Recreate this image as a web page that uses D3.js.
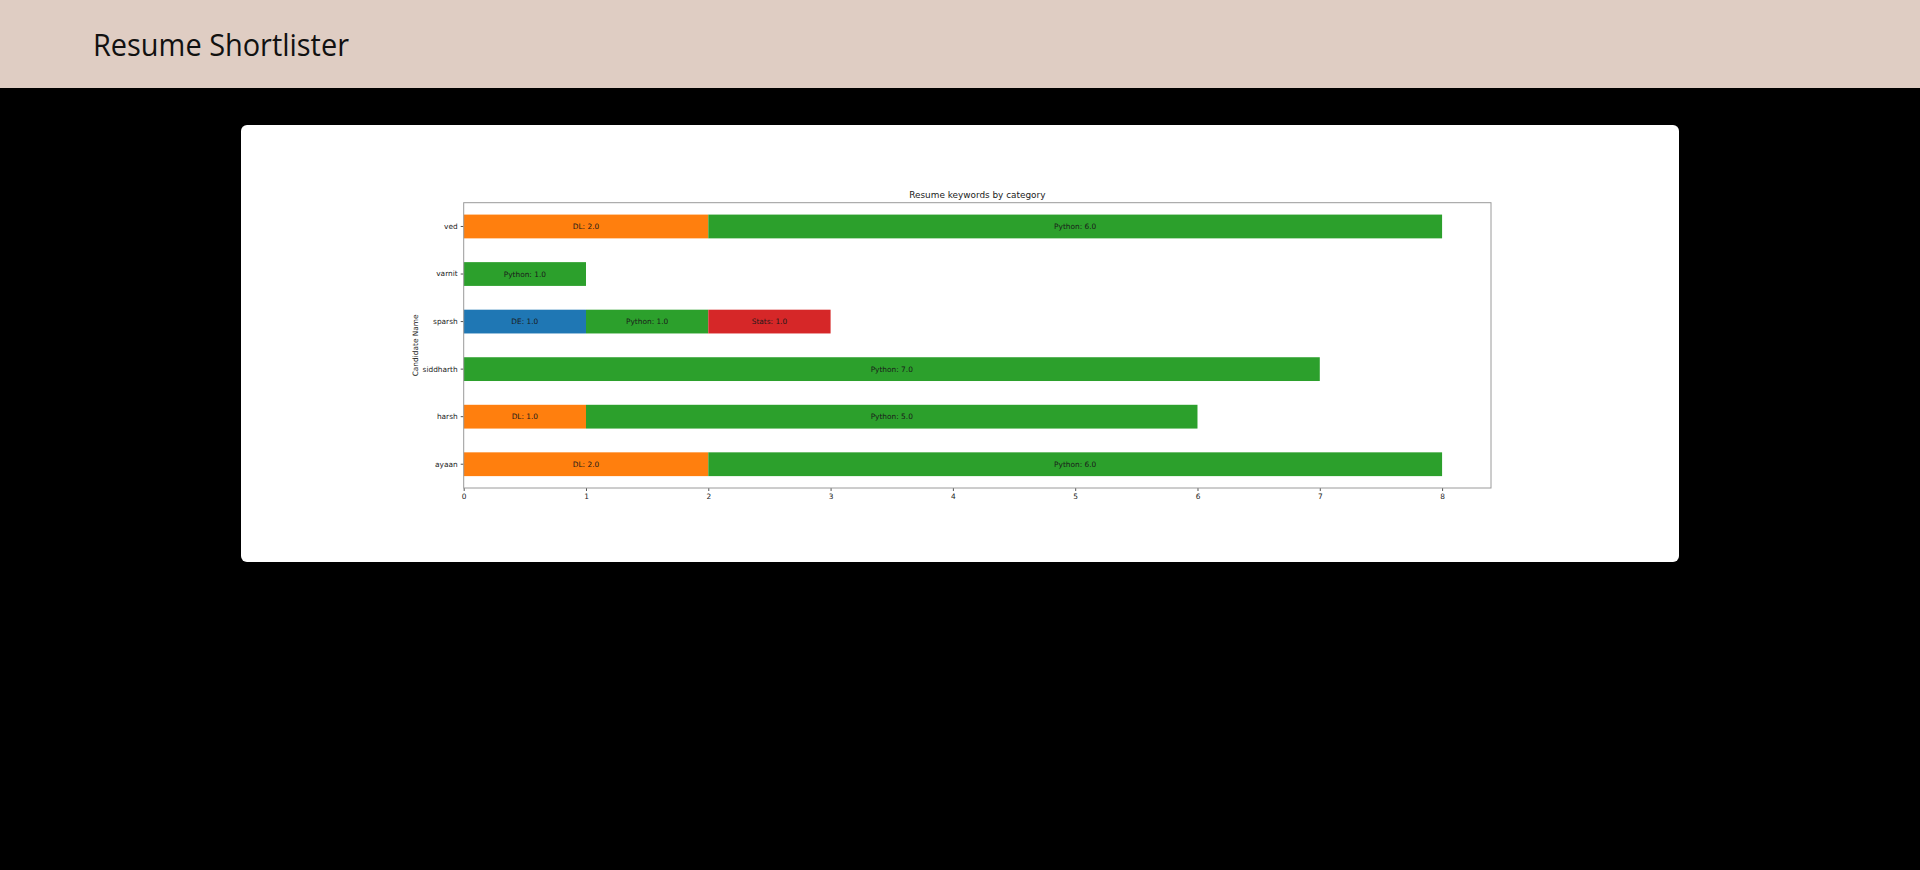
<!DOCTYPE html>
<html>
<head>
<meta charset="utf-8">
<script src="https://cdn.jsdelivr.net/npm/d3@7"></script>
<style>
  html, body { margin: 0; padding: 0; background: #000; overflow: hidden; }
  svg { display: block; }
</style>
</head>
<body>
<svg id="chart" width="1920" height="870"></svg>
<script>
// ---- data ----
const candidates = ["ayaan", "harsh", "siddharth", "sparsh", "varnit", "ved"]; // bottom -> top
const categories = ["DE", "DL", "Python", "Stats"];
const DE     = [0, 0, 0, 1, 0, 0];
const DL     = [2, 1, 0, 0, 0, 2];
const Python = [6, 5, 7, 1, 1, 6];
const Stats  = [0, 0, 0, 1, 0, 0];
const colors = ["#1f77b4", "#ff7f0e", "#2ca02c", "#d62728"];
const xTicks = [0, 1, 2, 3, 4, 5, 6, 7, 8];
const chartTitle = "Resume keywords by category";
const yTitle = "Candidate Name";
const pageTitle = "Resume Shortlister";

(function () {
const seriesVals = { DE, DL, Python, Stats };
const rows = candidates.map((c, i) => {
  const r = { name: c };
  categories.forEach(k => r[k] = seriesVals[k][i]);
  return r;
});

const svg = d3.select("#chart");

// header
svg.append("rect").attr("x", 0).attr("y", 0).attr("width", 1920).attr("height", 88).attr("fill", "#dfcdc3");
svg.append("text").attr("x", 93).attr("y", 56)
  .attr("font-family", "'Open Sans', 'Noto Sans', sans-serif")
  .attr("font-size", 30.5).attr("fill", "#111")
  .attr("textLength", 256).attr("lengthAdjust", "spacingAndGlyphs")
  .text(pageTitle);

// card
svg.append("rect").attr("x", 241).attr("y", 125).attr("width", 1438).attr("height", 437)
  .attr("rx", 6).attr("fill", "#fff");

// plot
const pLeft = 463.7, pRight = 1491, pTop = 202.7, pBottom = 488;
const x = d3.scaleLinear().domain([0, 8.4]).range([pLeft, pRight]);
const y = d3.scaleBand().domain(candidates.slice().reverse()).range([pTop, pBottom])
  .paddingInner(0.5).paddingOuter(0.25);

const stack = d3.stack().keys(categories)(rows);
const g = svg.append("g");
stack.forEach((layer, li) => {
  const segs = layer.filter(d => d[1] - d[0] > 0);
  g.selectAll(null).data(segs).enter()
    .append("rect")
    .attr("x", d => x(d[0]))
    .attr("y", d => y(d.data.name))
    .attr("width", d => x(d[1]) - x(d[0]))
    .attr("height", y.bandwidth())
    .attr("fill", colors[li]);
  g.selectAll(null).data(segs).enter()
    .append("text")
    .attr("x", d => (x(d[0]) + x(d[1])) / 2)
    .attr("y", d => y(d.data.name) + y.bandwidth() / 2)
    .attr("text-anchor", "middle").attr("dominant-baseline", "central")
    .attr("font-family", "'DejaVu Sans', sans-serif").attr("font-size", 7.4)
    .attr("fill", "#1a1a1a")
    .text(d => `${categories[li]}: ${(d[1] - d[0]).toFixed(1)}`);
});

// axes
const xAxis = d3.axisBottom(x).tickValues(xTicks).tickFormat(d3.format("d")).tickSize(3).tickPadding(3);
const gx = svg.append("g").attr("transform", `translate(0,${pBottom})`).call(xAxis);
const yAxis = d3.axisLeft(y).tickSize(3).tickPadding(3);
const gy = svg.append("g").attr("transform", `translate(${pLeft},0)`).call(yAxis);
[gx, gy].forEach(a => {
  a.select(".domain").remove();
  a.selectAll("line").attr("stroke", "#555");
  a.selectAll("text").attr("font-family", "'DejaVu Sans', sans-serif").attr("font-size", 7.4).attr("fill", "#222");
});

// frame
svg.append("rect").attr("x", pLeft).attr("y", pTop).attr("width", pRight - pLeft).attr("height", pBottom - pTop)
  .attr("fill", "none").attr("stroke", "#9a9a9a").attr("stroke-width", 1);

// titles
svg.append("text").attr("x", (pLeft + pRight) / 2).attr("y", 198)
  .attr("text-anchor", "middle").attr("font-family", "'DejaVu Sans', sans-serif")
  .attr("font-size", 8.9).attr("fill", "#1a1a1a").text(chartTitle);
svg.append("text").attr("transform", `translate(418,${(pTop + pBottom) / 2}) rotate(-90)`)
  .attr("text-anchor", "middle").attr("font-family", "'DejaVu Sans', sans-serif")
  .attr("font-size", 7.4).attr("fill", "#222").text(yTitle);
})();
</script>
</body>
</html>
